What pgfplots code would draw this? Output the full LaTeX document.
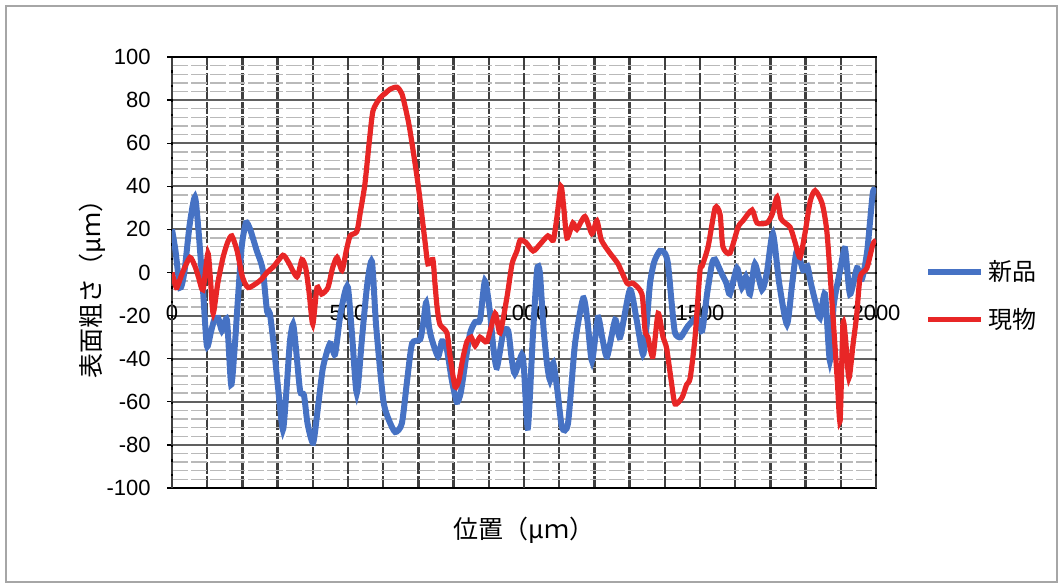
\documentclass[border=0pt]{standalone}
\usepackage{fontspec}
\setmainfont{Liberation Sans}
\newfontfamily\cjk{Noto Sans CJK JP}
\usepackage{pgfplots}
\pgfplotsset{compat=1.18}
\definecolor{sblue}{RGB}{70,114,196}
\definecolor{sred}{RGB}{232,38,38}
\pgfplotsset{
  layers/mylayers/.define layer set={axis background,axis grid,axis ticks,axis lines,axis tick labels,pre main,main,axis descriptions,axis foreground}{},
}
\begin{document}
\begin{tikzpicture}
\path (0,0) rectangle (529.5pt,292.5pt);
\draw[gray!70, line width=0.8pt] (3pt,1.5pt) rectangle (528.5pt,289.5pt);
\begin{axis}[
  set layers=mylayers,
  at={(86pt,48.5pt)}, anchor=south west,
  scale only axis, width=352pt, height=215.5pt,
  xmin=0, xmax=2000, ymin=-100, ymax=100,
  xtick={0,100,...,2000},
  xticklabels={0,,,,,500,,,,,1000,,,,,1500,,,,,2000},
  extra x ticks={0,500,1000,1500,2000},
  extra x tick labels={},
  extra x tick style={grid=major, major grid style={black, solid, line width=0.9pt}},
  ytick={-100,-80,...,100},
  minor y tick num=4,
  xmajorgrids, ymajorgrids, yminorgrids,
  major x grid style={gray!50!black, line width=1.15pt, dash pattern=on 6pt off 1.2pt},
  major y grid style={gray!75!black, line width=1pt},
  minor y grid style={gray!55, line width=0.7pt, dash pattern=on 8pt off 1.5pt},
  axis line style={black, line width=0.8pt},
  xtick style={draw=none},
  ytick pos=left, tick align=outside, major tick length=2.5pt, minor tick length=0pt,
  ytick style={black, line width=0.6pt},
  /pgf/number format/assume math mode=true,
  /pgf/number format/1000 sep={},
  ticklabel style={font=\fontsize{11}{13}\selectfont},
  yticklabel style={inner sep=0pt, xshift=-8pt},
  xticklabel style={anchor=center, yshift=90pt},
  xlabel={\cjk 位置（μｍ）},
  ylabel={\cjk 表面粗さ（μｍ）},
  label style={font=\fontsize{12.5}{14}\selectfont},
  xlabel style={at={(axis description cs:0.5,-0.0974)}, anchor=center},
  ylabel style={at={(axis description cs:-0.1136,0.4756)}, anchor=center},
  legend style={draw=none, fill=none, at={(axis description cs:1.0696,0.4455)}, anchor=west, inner sep=0pt, font=\cjk\fontsize{12}{14}\selectfont, row sep=8pt},
  legend cell align=left,
  legend image code/.code={\draw[#1] (0pt,0pt) -- (26.5pt,0pt);},
]
\addplot[sblue, line width=3pt, smooth, tension=0.4] coordinates {
(0,20)(10,10)(23,-7)(35,0)(50,22)(65,35)(75,20)(88,-8)(99,-34)(110,-28)(120,-22)(131,-21)(142,-27)(156,-22)(168,-52)(178,-35)(187,-13)(198,12)(210,23)(222,20)(241,10)(252,5)(259,0)(270,-18)(278,-19)(290,-35)(301,-53)(315,-73)(325,-55)(335,-32)(344,-24)(352,-35)(364,-55)(375,-57)(385,-70)(401,-79)(415,-62)(429,-44)(449,-33)(463,-38)(477,-21)(490,-10)(500,-7)(512,-30)(525,-56)(540,-30)(555,-5)(568,5)(580,-25)(600,-59)(615,-68)(634,-74)(653,-70)(668,-50)(682,-33)(705,-31)(715,-22)(722,-14)(730,-25)(738,-31)(756,-39)(767,-32)(780,-35)(795,-50)(809,-60)(820,-56)(835,-40)(847,-28)(861,-23)(875,-22)(889,-4)(903,-18)(913,-35)(923,-44)(941,-28)(955,-27)(965,-40)(974,-47)(994,-38)(1000,-45)(1011,-72)(1025,-30)(1037,1)(1045,0)(1055,-25)(1065,-42)(1074,-50)(1083,-42)(1095,-55)(1108,-72)(1125,-70)(1145,-33)(1168,-12)(1180,-22)(1193,-41)(1210,-21)(1222,-30)(1236,-39)(1259,-22)(1273,-30)(1301,-8)(1320,-22)(1338,-38)(1348,-25)(1358,-5)(1370,5)(1386,10)(1400,9)(1409,4)(1420,-15)(1429,-28)(1445,-30)(1465,-25)(1491,-21)(1506,-27)(1520,-10)(1534,4)(1543,6)(1560,0)(1575,-5)(1585,-10)(1605,2)(1619,-7)(1630,-2)(1642,-10)(1656,4)(1676,-8)(1690,0)(1707,18)(1725,-5)(1747,-24)(1762,-5)(1775,10)(1793,1)(1805,3)(1815,-5)(1830,-15)(1841,-21)(1855,-10)(1869,-41)(1880,-15)(1898,1)(1912,11)(1926,-10)(1946,2)(1960,-3)(1975,10)(1991,37)(2000,37)
};
\addlegendentry{新品}
\addplot[sred, line width=2.6pt, smooth, tension=0.4] coordinates {
(0,0)(8,-5)(14,-7)(30,0)(51,7)(65,3)(75,-2)(88,-8)(102,9)(110,-5)(117,-19)(130,-5)(145,7)(158,14)(170,17)(185,10)(200,-2)(216,-7)(240,-5)(255,-3)(270,0)(290,3)(315,8)(330,5)(355,-2)(369,6)(380,2)(390,-10)(400,-24)(412,-7)(425,-10)(443,-7)(456,2)(469,7)(483,1)(495,10)(506,17)(525,19)(535,28)(548,41)(560,60)(571,75)(591,81)(605,83)(619,85)(639,86)(653,83)(665,75)(676,66)(699,41)(719,14)(727,4)(741,6)(747,-5)(753,-16)(761,-24)(781,-28)(790,-39)(804,-53)(815,-50)(826,-40)(838,-32)(850,-30)(861,-34)(875,-30)(895,-32)(918,-19)(932,-28)(952,-11)(966,4)(980,10)(989,15)(1005,14)(1026,10)(1045,13)(1068,17)(1083,15)(1093,25)(1105,40)(1113,30)(1122,16)(1139,23)(1150,20)(1173,26)(1193,18)(1207,24)(1220,15)(1244,9)(1267,4)(1293,-5)(1310,-5)(1335,-10)(1344,-27)(1352,-30)(1366,-39)(1381,-19)(1395,-30)(1405,-35)(1418,-50)(1429,-61)(1449,-58)(1462,-52)(1472,-49)(1486,-30)(1500,1)(1506,3)(1523,12)(1543,30)(1557,27)(1565,12)(1585,9)(1608,21)(1622,24)(1648,29)(1662,23)(1690,23)(1705,27)(1719,35)(1730,25)(1756,21)(1770,14)(1784,7)(1798,18)(1813,33)(1827,38)(1847,32)(1861,18)(1878,-21)(1890,-50)(1898,-69)(1906,-24)(1913,-30)(1923,-49)(1935,-33)(1945,-20)(1955,-2)(1974,2)(1991,13)(2000,15)
};
\addlegendentry{現物}
\end{axis}
\end{tikzpicture}
\end{document}
